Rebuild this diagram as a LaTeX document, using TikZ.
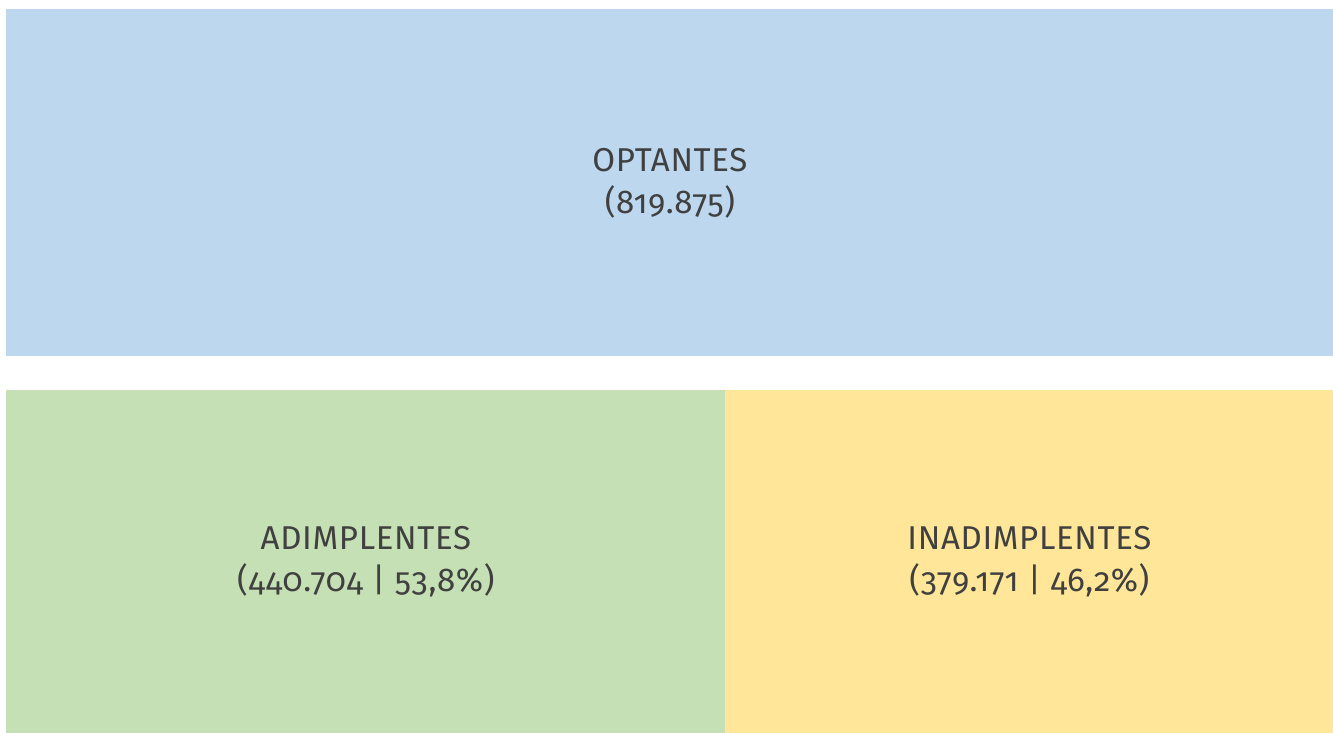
\documentclass[tikz,border=0pt]{standalone}
\usepackage{fontspec}
\setmainfont[Numbers=OldStyle,LetterSpace=2]{Fira Sans}
\usetikzlibrary{positioning}
\definecolor{boxblue}{HTML}{BDD7EE}
\definecolor{boxgreen}{HTML}{C5E0B4}
\definecolor{boxyellow}{HTML}{FFE699}
\definecolor{labelgray}{HTML}{404040}
\tikzset{
    every node/.style={font=\fontsize{16.5}{21}\selectfont,text=labelgray},
    group box/.style={rectangle,inner sep=0pt,align=center,anchor=north west}
}

\begin{document}
\begin{tikzpicture}[x=0.5pt,y=-0.5pt]
    \useasboundingbox (0,0) rectangle (1333,733);

    \node[group box,fill=boxblue,minimum width=663.5pt,minimum height=173.5pt] (optantes) at (6,9) {OPTANTES\\(819.875)};
    \node[group box,fill=boxgreen,minimum width=359.5pt,minimum height=171.5pt] (adimplentes) at (6,390) {ADIMPLENTES\\(440.704 | 53,8\%)};
    \node[group box,fill=boxyellow,minimum width=304pt,minimum height=171.5pt] (inadimplentes) at (725,390) {INADIMPLENTES\\(379.171 | 46,2\%)};
  \end{tikzpicture}
\end{document}
